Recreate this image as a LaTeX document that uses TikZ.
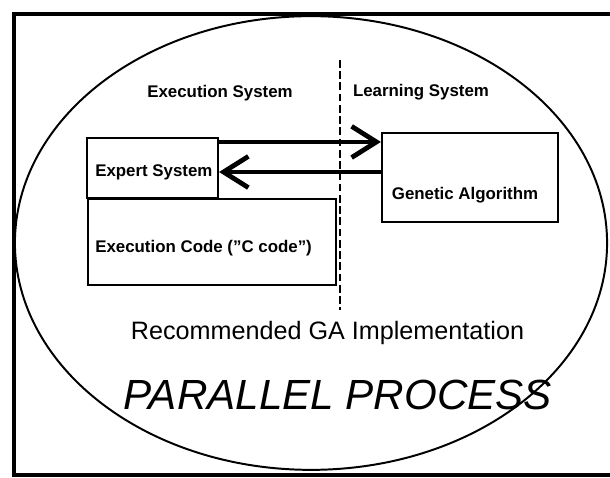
\documentclass[tikz,border=0pt]{standalone}
\usepackage{fontspec}
\setmainfont{Liberation Sans}
\usetikzlibrary{arrows.meta,positioning}
\tikzset{my box/.style={
  draw,
  line width=1.5pt,
  inner sep=0pt
  }
}
\tikzset{my small text/.style={
  font=\bfseries\fontsize{12}{14}\selectfont,
  inner sep=0pt
  }
}
\tikzset{my fat arrow/.style={
  line width=3.4pt,
  -{Straight Barb[length=0.62cm,width=0.78cm]}
  }
}

\begin{document}
\begin{tikzpicture}[x=0.025cm,y=-0.025cm]
    \useasboundingbox (0,0) rectangle (610,478);
    \draw[line width=2.6pt] (615,14) -- (14,14) -- (14,475) -- (615,475);
    \draw[line width=1.4pt] (311,243) ellipse [x radius=7.4cm, y radius=5.67cm];

    \coordinate (cuttop) at (340,60);
    \coordinate (cutbot) at (340,310);
    \draw[line width=1pt, dash pattern=on 5.5pt off 2.5pt] (cuttop) -- (cutbot);

    \node[my small text] (exsys) at (220,93) {Execution System};
    \node[my small text] (lesys) at (421,92) {Learning System};

    \node[my box,minimum width=3.275cm,minimum height=1.5cm] (exp) at (152.5,168) {};
    \node[my small text,anchor=west] (exptxt) at (95,172) {Expert System};

    \node[my box,minimum width=6.2cm,minimum height=2.15cm,anchor=north west] (code) at (87,198) {};
    \node[my small text,anchor=west] (codetxt) at (95,248) {Execution Code (”C code”)};

    \node[my box,minimum width=4.4cm,minimum height=2.225cm] (ga) at (470,177.5) {};
    \node[my small text] (gatxt) at (465,195) {Genetic Algorithm};

    \draw[my fat arrow] ([yshift=-0.125cm]exp.north east) -- ([yshift=-0.125cm]exp.north east -| ga.west);
    \draw[my fat arrow] ([yshift=-0.1cm]exp.east -| ga.west) -- ([yshift=-0.1cm]exp.east);

    \node[font=\fontsize{17.9}{21}\selectfont] (recom) at (327.5,333) {Recommended GA Implementation};
    \node[font=\itshape\fontsize{30}{36}\selectfont] (para) at (338,395) {PARALLEL PROCESS};
\end{tikzpicture}
\end{document}
